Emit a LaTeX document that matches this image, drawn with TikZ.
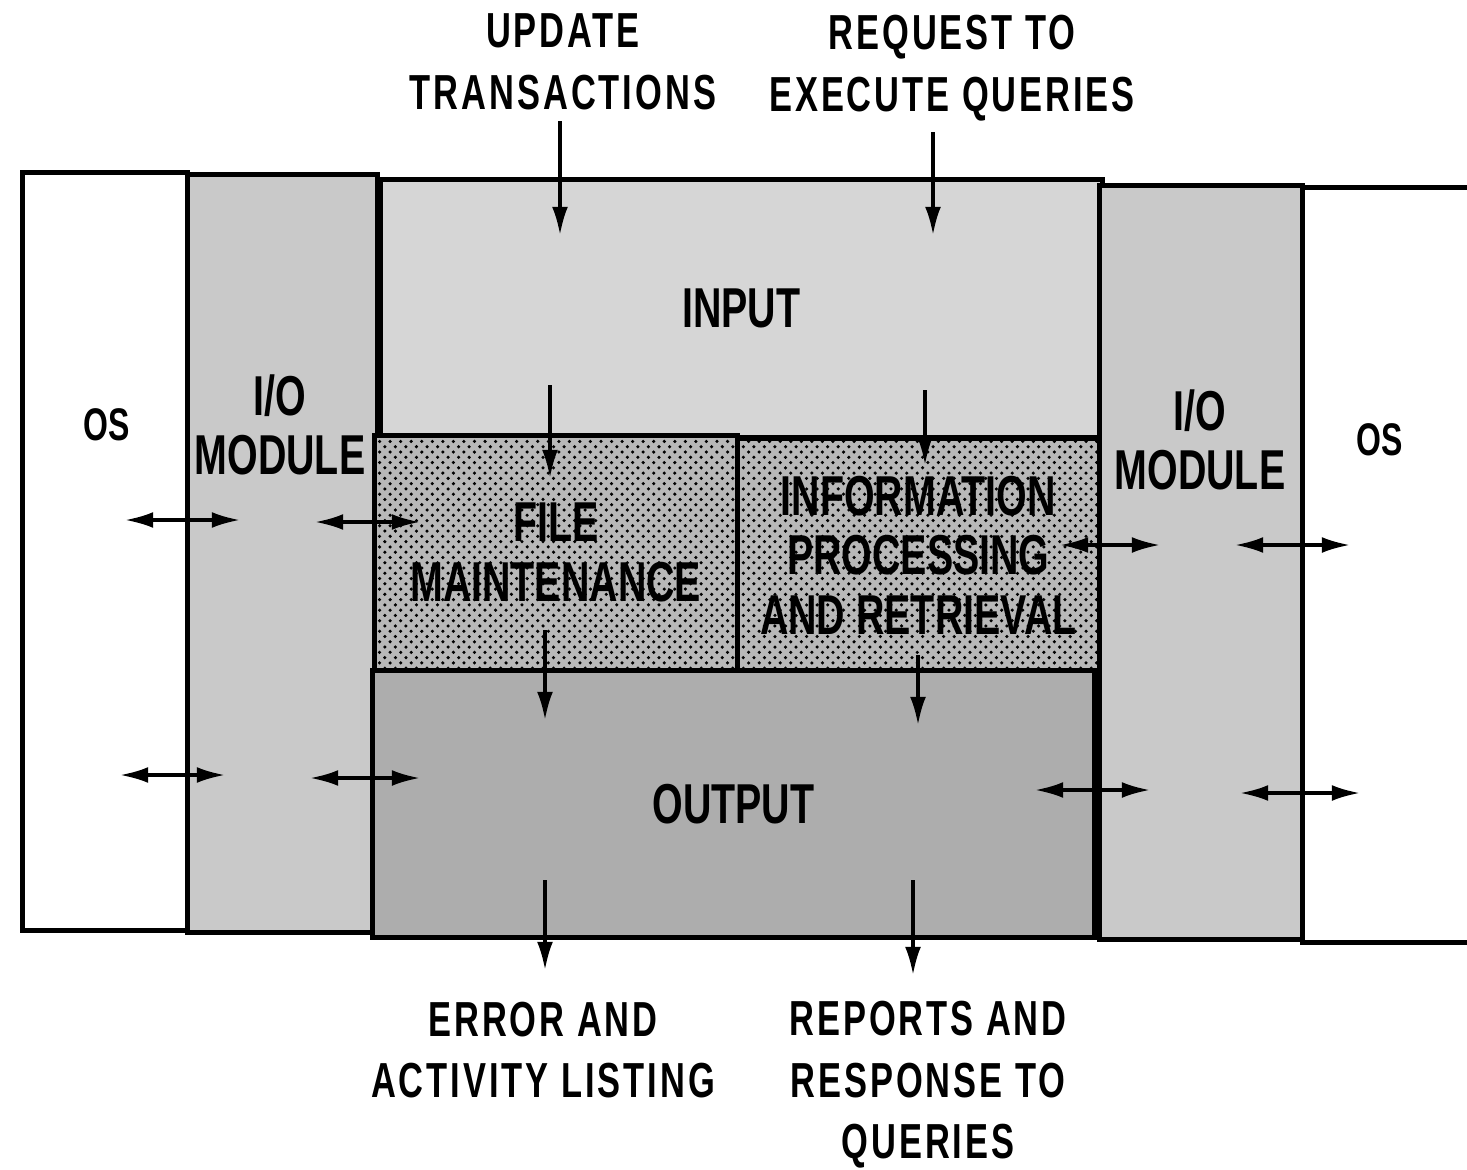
\documentclass[tikz,border=0pt]{standalone}
\usepackage{fontspec}
\setmainfont{Liberation Sans}[FakeStretch=0.7]
\usetikzlibrary{arrows.meta,patterns}

\definecolor{iogray}{gray}{0.79}
\definecolor{ingray}{gray}{0.84}
\definecolor{outgray}{gray}{0.68}
\definecolor{dotgray}{gray}{0.72}

\begin{document}
\begin{tikzpicture}[
  box/.style={draw, line width=1.3pt, anchor=north west, inner sep=0pt},
  dotbox/.style={box, preaction={fill=dotgray}, pattern=crosshatch dots},
  lbl/.style={font=\bfseries\fontsize{14}{17.5}\selectfont\addfontfeatures{LetterSpace=6}, align=center, inner sep=3pt},
  big/.style={font=\bfseries\fontsize{16}{17}\selectfont, align=center},
  flow/.style={line width=0.9pt, -{Latex[length=8pt,width=4.5pt]}},
  both/.style={line width=0.9pt, {Latex[length=8pt,width=4.5pt]}-{Latex[length=8pt,width=4.5pt]}}
]
\useasboundingbox (0,0) rectangle (14.67,-11.69);

% regions of the program
\node[box, minimum width=1.65cm, minimum height=7.58cm] (osL) at (0.20,-1.70) {};
\node[box, fill=iogray, minimum width=1.90cm, minimum height=7.58cm] (ioL) at (1.85,-1.72) {};
\node[box, fill=ingray, minimum width=7.22cm, minimum height=2.58cm, big] (inp) at (3.78,-1.77) {INPUT};
\node[dotbox, minimum width=3.63cm, minimum height=2.35cm, big] (fm) at (3.72,-4.33) {FILE\\MAINTENANCE};
\node[dotbox, minimum width=3.62cm, minimum height=2.34cm, big] (ipr) at (7.35,-4.36) {INFORMATION\\PROCESSING\\AND RETRIEVAL};
\node[box, fill=outgray, minimum width=7.22cm, minimum height=2.67cm, big] (out) at (3.70,-6.68) {OUTPUT};
\node[box, fill=iogray, minimum width=2.03cm, minimum height=7.54cm] (ioR) at (10.97,-1.83) {};
\node[box, minimum width=1.67cm, minimum height=7.55cm] (osR) at (13.00,-1.85) {};

% labels in the side columns
\node[lbl, font=\bfseries\fontsize{13}{16}\selectfont] (osLt) at (1.07,-4.25) {OS};
\node[big] (ioLt) at (2.80,-4.25) {I/O\\MODULE};
\node[big] (ioRt) at (12.00,-4.40) {I/O\\MODULE};
\node[lbl, font=\bfseries\fontsize{13}{16}\selectfont] (osRt) at (13.80,-4.40) {OS};

% outside labels
\node[lbl] (upd) at (5.63,-0.62) {UPDATE\\TRANSACTIONS};
\node[lbl] (req) at (9.52,-0.68) {REQUEST TO\\EXECUTE QUERIES};
\node[lbl] (err) at (5.43,-10.50) {ERROR AND\\ACTIVITY LISTING};
\node[lbl] (rep) at (9.28,-10.85) {REPORTS AND\\RESPONSE TO\\QUERIES};

% ends of the flow arrows
\coordinate (updE) at (5.60,-2.35);
\coordinate (reqE) at (9.33,-2.35);
\coordinate (inpA) at (5.50,-3.85);
\coordinate (fmA) at (5.50,-4.78);
\coordinate (inpB) at (9.25,-3.90);
\coordinate (iprA) at (9.25,-4.65);
\coordinate (fmB) at (5.45,-6.30);
\coordinate (outA) at (5.45,-7.20);
\coordinate (iprB) at (9.18,-6.55);
\coordinate (outB) at (9.18,-7.25);
\coordinate (outC) at (5.45,-8.80);
\coordinate (errE) at (5.45,-9.70);
\coordinate (outD) at (9.13,-8.80);
\coordinate (repE) at (9.13,-9.75);

\draw[flow] (upd.south -| updE) -- (updE);
\draw[flow] (req.south -| reqE) -- (reqE);
\draw[flow] (inpA) -- (fmA);
\draw[flow] (inpB) -- (iprA);
\draw[flow] (fmB) -- (outA);
\draw[flow] (iprB) -- (outB);
\draw[flow] (outC) -- (errE);
\draw[flow] (outD) -- (repE);

% two-way traffic across the columns
\coordinate (l1a) at (1.25,-5.20); \coordinate (l1b) at (2.40,-5.20);
\coordinate (l2a) at (3.15,-5.22); \coordinate (l2b) at (4.20,-5.22);
\coordinate (l3a) at (1.20,-7.75); \coordinate (l3b) at (2.25,-7.75);
\coordinate (l4a) at (3.10,-7.78); \coordinate (l4b) at (4.20,-7.78);
\coordinate (r1a) at (10.60,-5.45); \coordinate (r1b) at (11.60,-5.45);
\coordinate (r2a) at (12.35,-5.45); \coordinate (r2b) at (13.50,-5.45);
\coordinate (r3a) at (10.35,-7.90); \coordinate (r3b) at (11.50,-7.90);
\coordinate (r4a) at (12.40,-7.93); \coordinate (r4b) at (13.60,-7.93);

\draw[both] (l1a) -- (l1b);
\draw[both] (l2a) -- (l2b);
\draw[both] (l3a) -- (l3b);
\draw[both] (l4a) -- (l4b);
\draw[both] (r1a) -- (r1b);
\draw[both] (r2a) -- (r2b);
\draw[both] (r3a) -- (r3b);
\draw[both] (r4a) -- (r4b);
\end{tikzpicture}
\end{document}
